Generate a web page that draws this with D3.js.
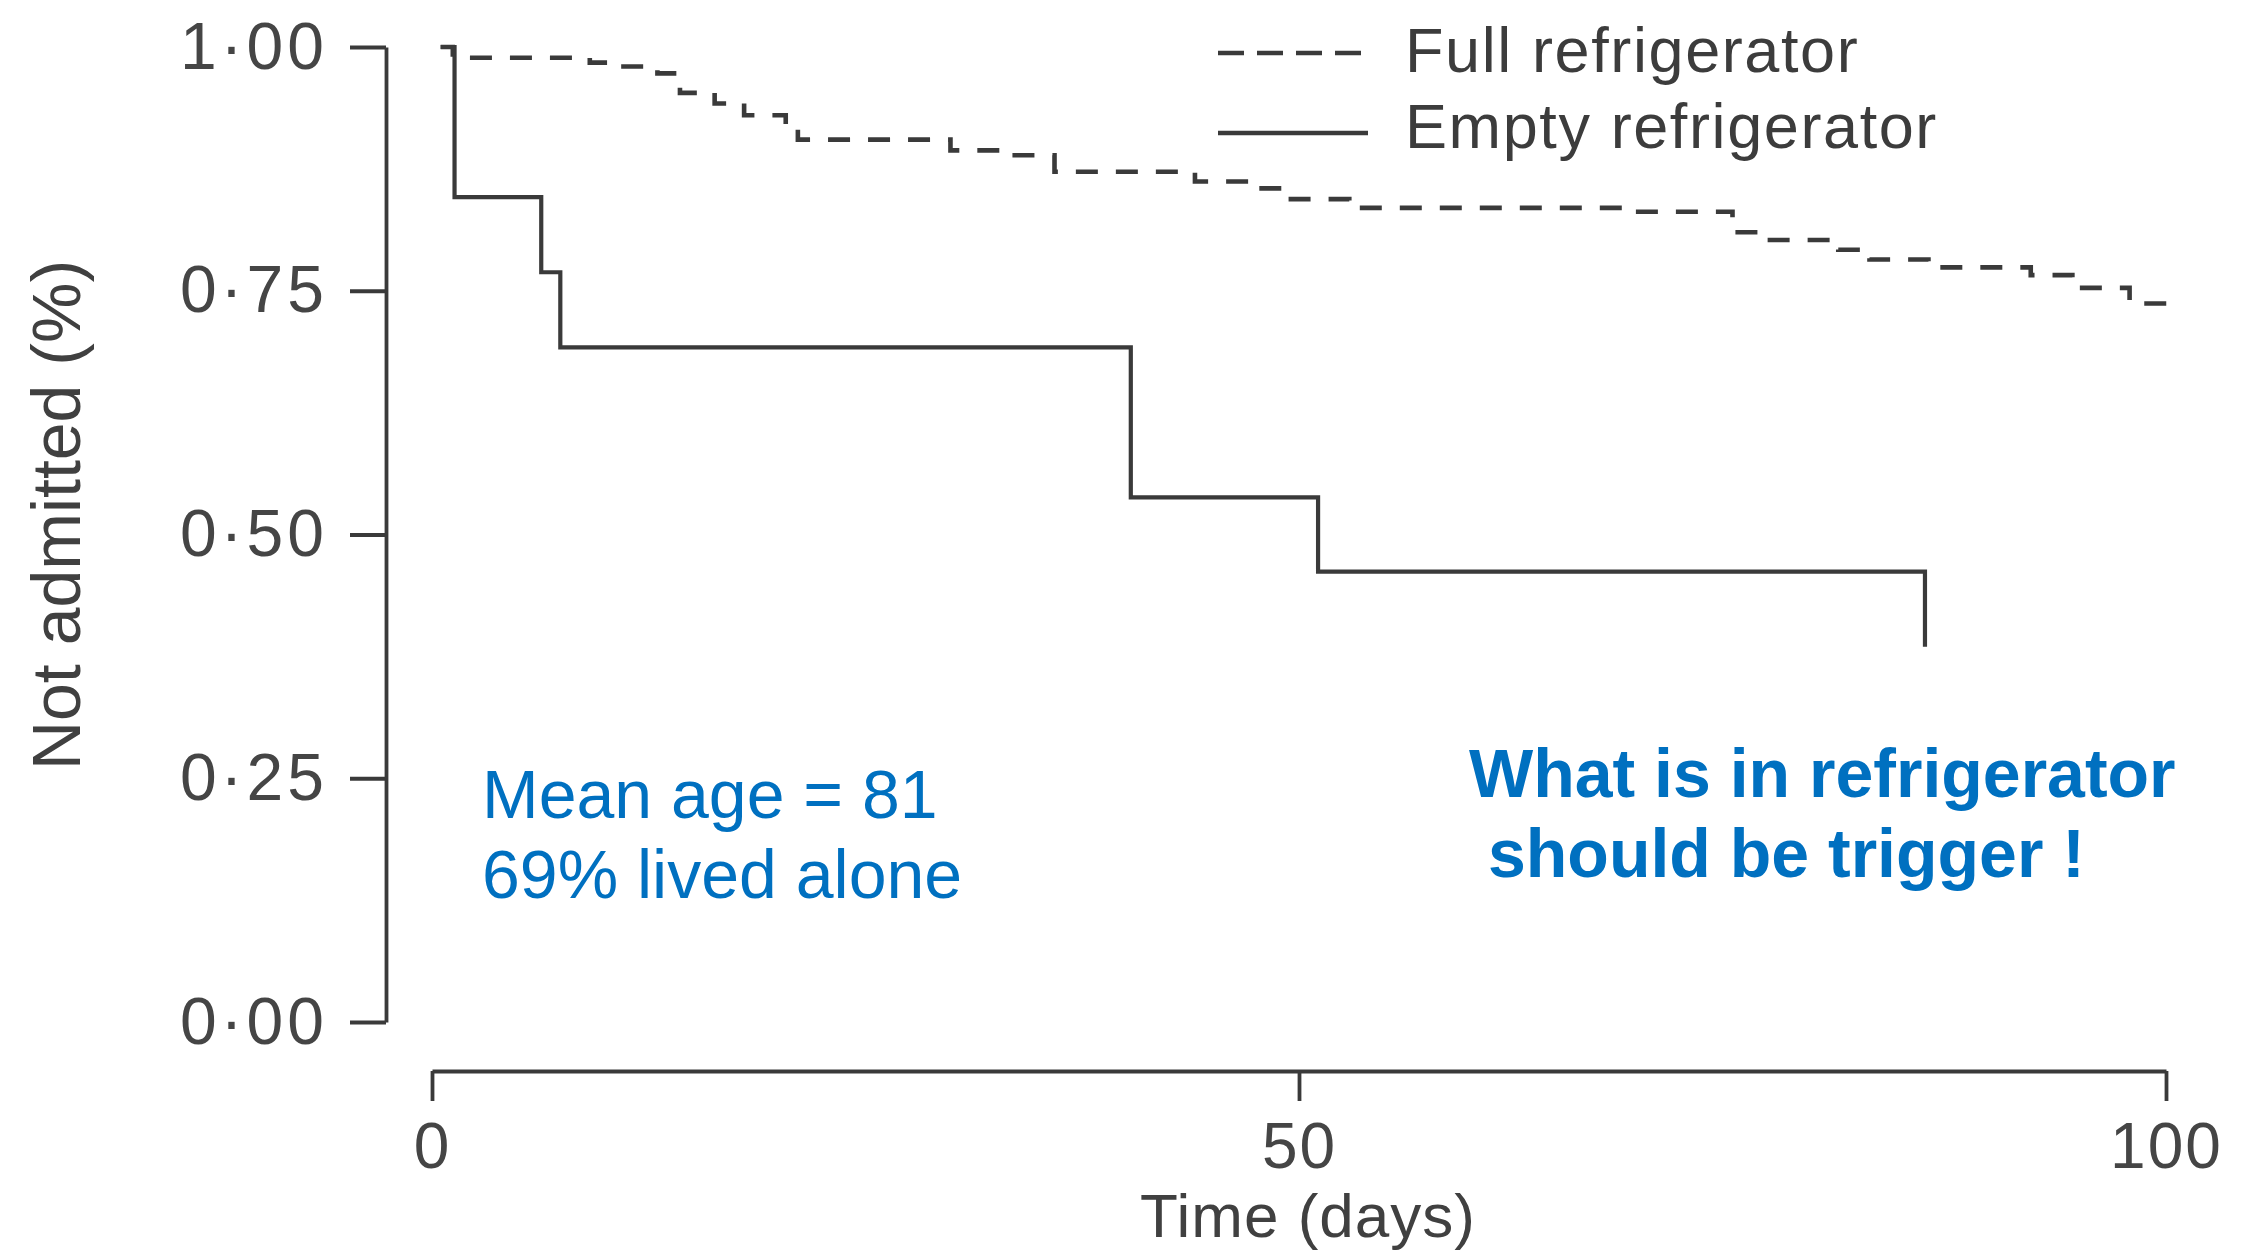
<!DOCTYPE html>
<html>
<head>
<meta charset="utf-8">
<script src="https://cdn.jsdelivr.net/npm/d3@7"></script>
<style>
  html, body { margin: 0; padding: 0; background: #ffffff; }
  svg { display: block; }
  text { font-family: "Liberation Sans", Arial, sans-serif; }
</style>
</head>
<body>
<svg id="chart" width="2243" height="1254"></svg>
<script>
// Kaplan–Meier style curves: proportion not admitted over time
const xTickValues = [0, 50, 100];
const yTickValues = [0, 0.25, 0.5, 0.75, 1];

// Empty refrigerator (solid)
const emptyTimes  = [0.5, 1.3, 6.3, 7.4, 40.3, 51.1, 86.1];
const emptyValues = [1.0, 0.846, 0.769, 0.692, 0.538, 0.462, 0.385];

// Full refrigerator (dashed)
const fullTimes  = [0.5, 1.2, 9.1, 10.8, 13.0, 14.3, 16.3, 18.0, 20.4, 21.1, 29.9, 33.0, 35.9,
                    44.0, 47.3, 49.0, 52.9, 69.1, 75.0, 76.5, 81.1, 82.9, 86.3, 92.2, 94.6, 97.9, 100.2];
const fullValues = [1.0, 0.989, 0.984, 0.980, 0.973, 0.953, 0.942, 0.930, 0.916, 0.905, 0.894, 0.889, 0.872,
                    0.862, 0.855, 0.844, 0.835, 0.831, 0.810, 0.802, 0.792, 0.782, 0.774, 0.766, 0.753, 0.737, 0.722];

const seriesNames = ["Full refrigerator", "Empty refrigerator"];
const noteLines = ["Mean age = 81", "69% lived alone"];
const calloutLines = ["What is in refrigerator", "should be trigger !"];

const ink = "#3a3a3a";
const blue = "#0070c0";

const svg = d3.select("#chart");

const x = d3.scaleLinear().domain([0, 100]).range([432, 2166]);
const y = d3.scaleLinear().domain([0, 1]).range([1022, 47]);

const fmt = v => d3.format(".2f")(v).replace(".", "\u00b7");

// Y axis
const yAxis = svg.append("g")
  .attr("transform", "translate(386,0)")
  .call(d3.axisLeft(y).tickValues(yTickValues).tickFormat(fmt).tickSize(36).tickSizeOuter(0).tickPadding(22));
yAxis.select(".domain").attr("stroke", ink).attr("stroke-width", 3.8);
yAxis.selectAll(".tick line").attr("stroke", ink).attr("stroke-width", 3.8);
yAxis.selectAll(".tick text")
  .attr("fill", "#454545").attr("font-size", 66).attr("letter-spacing", 4)
  .attr("font-family", "Liberation Sans, Arial, sans-serif");

// X axis (offset below the plot)
const xAxis = svg.append("g")
  .attr("transform", "translate(0,1071)")
  .call(d3.axisBottom(x).tickValues(xTickValues).tickSize(30).tickSizeOuter(0).tickPadding(22));
xAxis.select(".domain").attr("stroke", ink).attr("stroke-width", 3.8);
xAxis.selectAll(".tick line").attr("stroke", ink).attr("stroke-width", 3.8);
xAxis.selectAll(".tick text")
  .attr("fill", "#454545").attr("font-size", 64).attr("letter-spacing", 2)
  .attr("font-family", "Liberation Sans, Arial, sans-serif");

// Axis titles
svg.append("text")
  .attr("x", 1308).attr("y", 1237)
  .attr("text-anchor", "middle")
  .attr("font-size", 62).attr("fill", "#404040").attr("letter-spacing", 1)
  .text("Time (days)");

svg.append("text")
  .attr("transform", "translate(80,515) rotate(-90)")
  .attr("text-anchor", "middle")
  .attr("font-size", 68).attr("fill", "#404040")
  .text("Not admitted (%)");

// Survival curves
const stepLine = d3.line()
  .x(d => x(d[0]))
  .y(d => y(d[1]))
  .curve(d3.curveStepAfter);

const fullData = d3.zip(fullTimes, fullValues);
const emptyData = d3.zip(emptyTimes, emptyValues);

svg.append("path")
  .datum(fullData)
  .attr("d", stepLine)
  .attr("fill", "none")
  .attr("stroke", ink)
  .attr("stroke-width", 4.6)
  .attr("stroke-dasharray", "22,18");

svg.append("path")
  .datum(emptyData)
  .attr("d", stepLine)
  .attr("fill", "none")
  .attr("stroke", ink)
  .attr("stroke-width", 4.2);

// Legend
const legend = svg.append("g");
const legendRows = [
  { name: seriesNames[0], dash: "26,13", ly: 53, ty: 72 },
  { name: seriesNames[1], dash: null, ly: 133, ty: 148 }
];
legendRows.forEach(r => {
  legend.append("line")
    .attr("x1", 1218).attr("x2", 1368)
    .attr("y1", r.ly).attr("y2", r.ly)
    .attr("stroke", ink).attr("stroke-width", 4.6)
    .attr("stroke-dasharray", r.dash);
  legend.append("text")
    .attr("x", 1405).attr("y", r.ty)
    .attr("font-size", 63).attr("fill", "#3c3c3c").attr("letter-spacing", 1.6)
    .text(r.name);
});

// Annotations
svg.append("g").selectAll("text")
  .data(noteLines)
  .join("text")
  .attr("x", 482)
  .attr("y", (d, i) => 818 + i * 80)
  .attr("font-size", 68)
  .attr("fill", blue)
  .text(d => d);

const calloutX = [1469, 1488];
svg.append("g").selectAll("text")
  .data(calloutLines)
  .join("text")
  .attr("x", (d, i) => calloutX[i])
  .attr("y", (d, i) => 797 + i * 80)
  .attr("font-size", 68)
  .attr("font-weight", "bold")
  .attr("fill", blue)
  .text(d => d);
</script>
</body>
</html>
